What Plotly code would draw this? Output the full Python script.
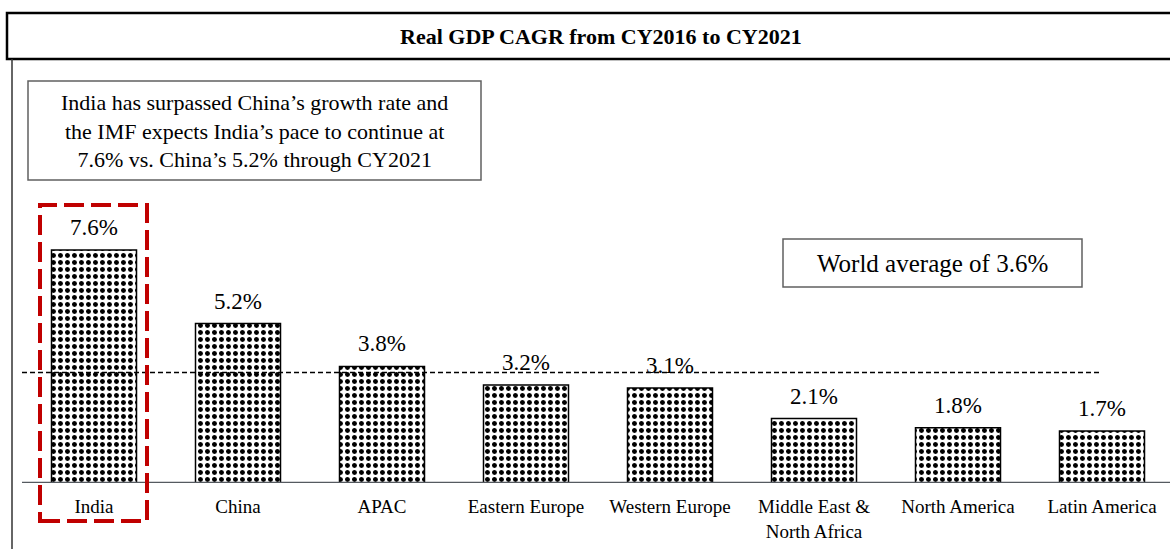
import plotly.graph_objects as go

categories = ["India", "China", "APAC", "Eastern Europe", "Western Europe",
              "Middle East &<br>North Africa", "North America", "Latin America"]
values = [7.6, 5.2, 3.8, 3.2, 3.1, 2.1, 1.8, 1.7]
labels = ["7.6%", "5.2%", "3.8%", "3.2%", "3.1%", "2.1%", "1.8%", "1.7%"]
world_avg = 3.6

W, H = 1170, 549
ML, MR, MT, MB = 22, 0, 0, 66
PW, PH = W - ML - MR, H - MT - MB
PX_PER_UNIT = 30.66
PX_PER_CAT = 144.0

def px(x):
    return (x - ML) / PW

def py(y):
    return (H - MB - y) / PH

FONT = "Liberation Serif, Times New Roman, serif"

fig = go.Figure()
fig.add_trace(go.Bar(
    x=list(range(len(categories))), y=values,
    width=85 / PX_PER_CAT,
    marker=dict(color="white",
                line=dict(color="black", width=1.5),
                pattern=dict(shape=".", fgcolor="black", bgcolor="white",
                             size=7, solidity=0.4, fgopacity=1)),
    hoverinfo="skip",
))

for i, (v, t) in enumerate(zip(values, labels)):
    fig.add_annotation(x=i, y=v, text=t, showarrow=False, yanchor="bottom",
                       xanchor="center", yshift=8,
                       font=dict(family=FONT, size=23, color="black"))

shapes = []
shapes.append(dict(type="line", xref="paper", yref="y", x0=px(22), x1=px(1100),
                   y0=world_avg, y1=world_avg,
                   line=dict(color="black", width=1.5, dash="5px,3px")))
shapes.append(dict(type="line", xref="paper", yref="y", x0=0, x1=1, y0=0, y1=0,
                   line=dict(color="#555a60", width=2.5)))
shapes.append(dict(type="rect", xref="paper", yref="paper", x0=px(7), x1=px(1175),
                   y0=py(59), y1=py(13), line=dict(color="black", width=2.5)))
shapes.append(dict(type="line", xref="paper", yref="paper", x0=px(12), x1=px(12),
                   y0=py(59), y1=py(560), line=dict(color="#333333", width=1.5)))
shapes.append(dict(type="rect", xref="paper", yref="paper", x0=px(28), x1=px(481),
                   y0=py(180), y1=py(81), line=dict(color="#606060", width=1.5)))
shapes.append(dict(type="rect", xref="paper", yref="paper", x0=px(783), x1=px(1082),
                   y0=py(287), y1=py(239), line=dict(color="#606060", width=1.5)))
shapes.append(dict(type="rect", xref="paper", yref="paper", x0=px(40), x1=px(147),
                   y0=py(521), y1=py(205),
                   line=dict(color="#c00000", width=4, dash="20px,7px")))
fig.update_layout(shapes=shapes)

fig.add_annotation(xref="paper", yref="paper", x=px(601), y=py(36),
                   xanchor="center", yanchor="middle",
                   text="<b>Real GDP CAGR from CY2016 to CY2021</b>", showarrow=False,
                   font=dict(family=FONT, size=22, color="black"))
fig.add_annotation(xref="paper", yref="paper", x=px(254.5), y=py(130.5),
                   xanchor="center", yanchor="middle",
                   text="India has surpassed China’s growth rate and<br>the IMF expects India’s pace to continue at<br>7.6% vs. China’s 5.2% through CY2021",
                   showarrow=False, align="center",
                   font=dict(family=FONT, size=22, color="black"))
fig.add_annotation(xref="paper", yref="paper", x=px(932.5), y=py(263),
                   xanchor="center", yanchor="middle",
                   text="World average of 3.6%", showarrow=False,
                   font=dict(family=FONT, size=25, color="black"))

fig.update_xaxes(range=[-0.5, -0.5 + PW / PX_PER_CAT], tickmode="array",
                 tickvals=list(range(len(categories))), ticktext=categories,
                 showgrid=False, zeroline=False, showline=False, ticks="",
                 ticklabelstandoff=10,
                 tickfont=dict(family=FONT, size=19, color="black"), fixedrange=True)
fig.update_yaxes(range=[0, PH / PX_PER_UNIT], visible=False, showgrid=False,
                 zeroline=False, fixedrange=True)

fig.update_layout(width=W, height=H, margin=dict(l=ML, r=MR, t=MT, b=MB),
                  plot_bgcolor="white", paper_bgcolor="white", showlegend=False,
                  bargap=0.41)

fig.write_html("out.html", config={"displayModeBar": False},
               post_script="document.body.style.margin='0';document.body.style.overflow='hidden';")
